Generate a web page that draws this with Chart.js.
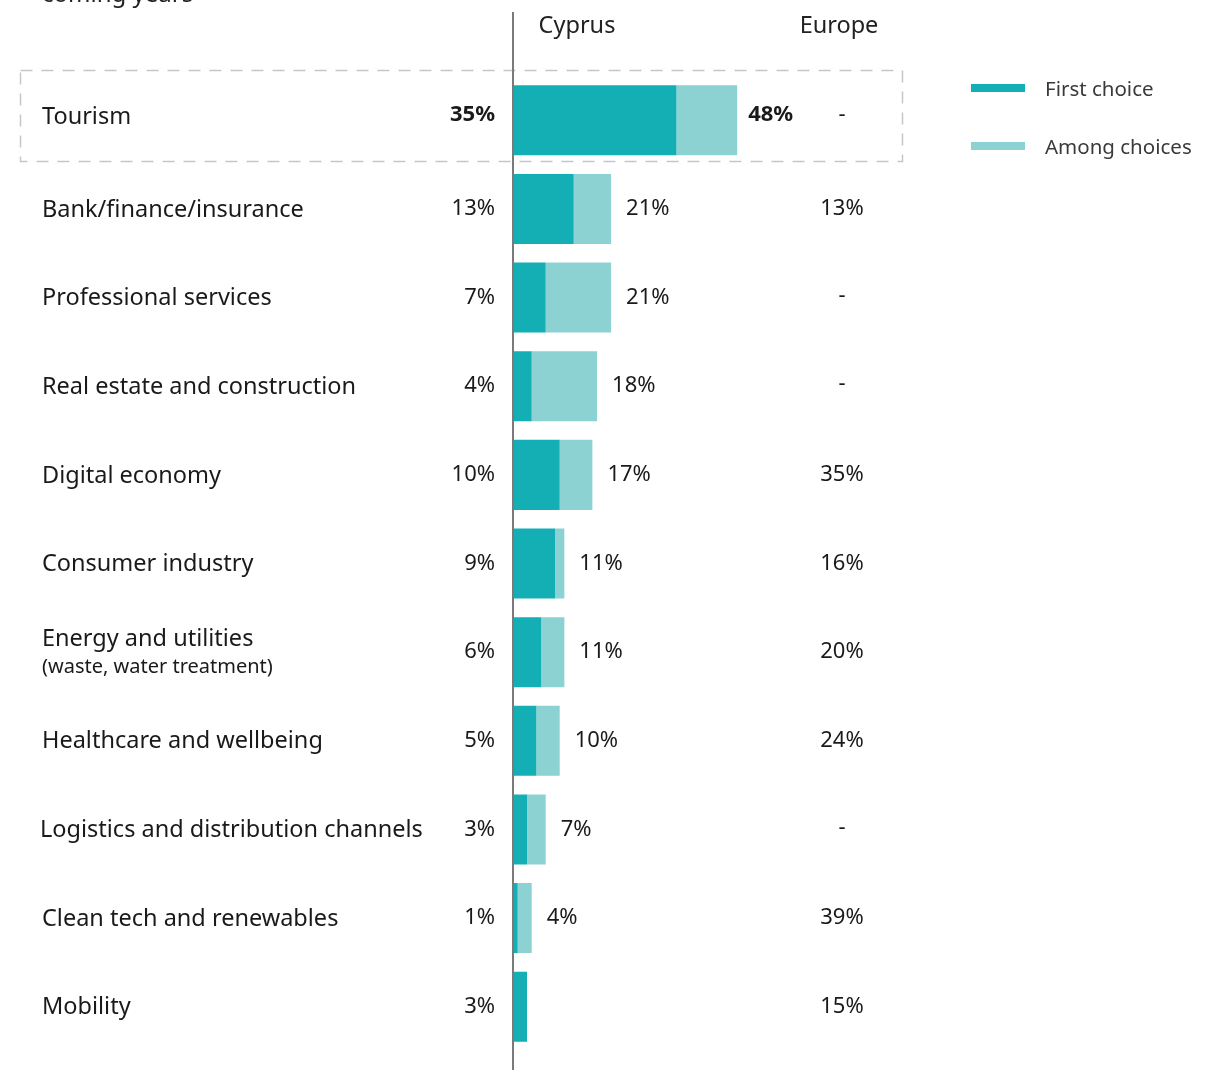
<!DOCTYPE html>
<html>
<head>
<meta charset="utf-8">
<script src="https://cdn.jsdelivr.net/npm/chart.js@4"></script>
<style>
  html, body { margin: 0; padding: 0; background: #fff; }
  canvas { display: block; }
</style>
</head>
<body>
<canvas id="sectorChart" width="1220" height="1070"></canvas>
<script>
// Sectors and shares (%)
const sectors = ['Tourism', 'Bank/finance/insurance', 'Professional services', 'Real estate and construction',
    'Digital economy', 'Consumer industry', 'Energy and utilities', 'Healthcare and wellbeing',
    'Logistics and distribution channels', 'Clean tech and renewables', 'Mobility'];
const sectorNotes = ['', '', '', '', '', '', '(waste, water treatment)', '', '', '', ''];
const firstChoice = [35, 13, 7, 4, 10, 9, 6, 5, 3, 1, 3];
const amongChoices = [48, 21, 21, 18, 17, 11, 11, 10, 7, 4, null];
const europe = [null, 13, null, null, 35, 16, 20, 24, null, 39, 15];

const DARK = '#13afb5';
const LIGHT = '#8dd2d2';
const FONT = '"Noto Sans", "Open Sans", sans-serif';

// Among choices bar only shows what's beyond the first choice
const amongRest = amongChoices.map((v, i) => v == null ? null : v - firstChoice[i]);

const textPlugin = {
    id: 'textPlugin',
    beforeDraw(chart) {
        const ctx = chart.ctx;
        ctx.save();
        ctx.strokeStyle = '#c3c7cc';
        ctx.lineWidth = 1.5;
        ctx.setLineDash([12, 9]);
        ctx.strokeRect(20.5, 70.5, 882, 91);
        ctx.restore();
    },
    afterDraw(chart) {
        const ctx = chart.ctx;
        const x = chart.scales.x;
        const y = chart.scales.y;
        const left = chart.chartArea.left;
        ctx.save();

        // axis line
        ctx.strokeStyle = '#7a7a7a';
        ctx.lineWidth = 2;
        ctx.beginPath();
        ctx.moveTo(left, 12);
        ctx.lineTo(left, 1070);
        ctx.stroke();

        // cut-off title line
        ctx.fillStyle = '#222';
        ctx.font = '24px ' + FONT;
        ctx.textAlign = 'left';
        ctx.textBaseline = 'alphabetic';
        ctx.fillText('coming years', 42, 2);

        // headers
        ctx.font = '23.5px ' + FONT;
        ctx.textAlign = 'center';
        ctx.textBaseline = 'middle';
        ctx.fillText('Cyprus', 577, 26);
        ctx.fillText('Europe', 839, 26);

        sectors.forEach((name, i) => {
            const bold = i === 0;
            // the highlighted row sits a little higher in the original
            const cy = y.getPixelForValue(i) - (bold ? 4 : 0);
            ctx.fillStyle = '#1a1a1a';
            ctx.textBaseline = 'middle';
            ctx.textAlign = 'left';
            ctx.font = '23.5px ' + FONT;
            const lx = name.startsWith('Logistics') ? 40 : 42;
            if (sectorNotes[i]) {
                ctx.fillText(name, lx, cy - 13);
                ctx.font = '20px ' + FONT;
                ctx.fillText(sectorNotes[i], lx, cy + 15);
            } else {
                ctx.fillText(name, lx, cy + 1);
            }

            ctx.font = (bold ? 'bold ' : '') + '22px ' + FONT;
            ctx.textAlign = 'right';
            ctx.fillText(firstChoice[i] + '%', 495, cy - (bold ? 2 : 0));

            if (amongChoices[i] != null) {
                ctx.textAlign = 'left';
                ctx.fillText(amongChoices[i] + '%', x.getPixelForValue(amongChoices[i]) + (bold ? 11 : 15), cy - (bold ? 2 : 0));
            }

            ctx.textAlign = 'center';
            ctx.font = '22px ' + FONT;
            ctx.fillText(europe[i] == null ? '-' : europe[i] + '%', 842, cy - (europe[i] == null ? 2 : 0));
        });

        // legend
        const legend = [['First choice', DARK, 88], ['Among choices', LIGHT, 146]];
        legend.forEach(([label, color, ly]) => {
            ctx.fillStyle = color;
            ctx.fillRect(971, ly - 4, 54, 8);
            ctx.fillStyle = '#3a3a3a';
            ctx.font = '20.5px ' + FONT;
            ctx.textAlign = 'left';
            ctx.fillText(label, 1045, ly + 2);
        });
        ctx.restore();
    }
};

new Chart(document.getElementById('sectorChart').getContext('2d'), {
    type: 'bar',
    data: {
        labels: sectors,
        datasets: [{
            label: 'First choice',
            data: firstChoice,
            backgroundColor: DARK
        }, {
            label: 'Among choices',
            data: amongRest,
            backgroundColor: LIGHT
        }]
    },
    options: {
        indexAxis: 'y',
        responsive: false,
        animation: false,
        devicePixelRatio: 1,
        layout: { padding: { left: 513, right: 240, top: 76, bottom: 19 } },
        datasets: { bar: { barPercentage: 0.79, categoryPercentage: 1 } },
        scales: {
            x: { stacked: true, min: 0, max: 100, display: false },
            y: { stacked: true, display: false }
        },
        plugins: { legend: { display: false }, tooltip: { enabled: false } }
    },
    plugins: [textPlugin]
});
</script>
</body>
</html>
